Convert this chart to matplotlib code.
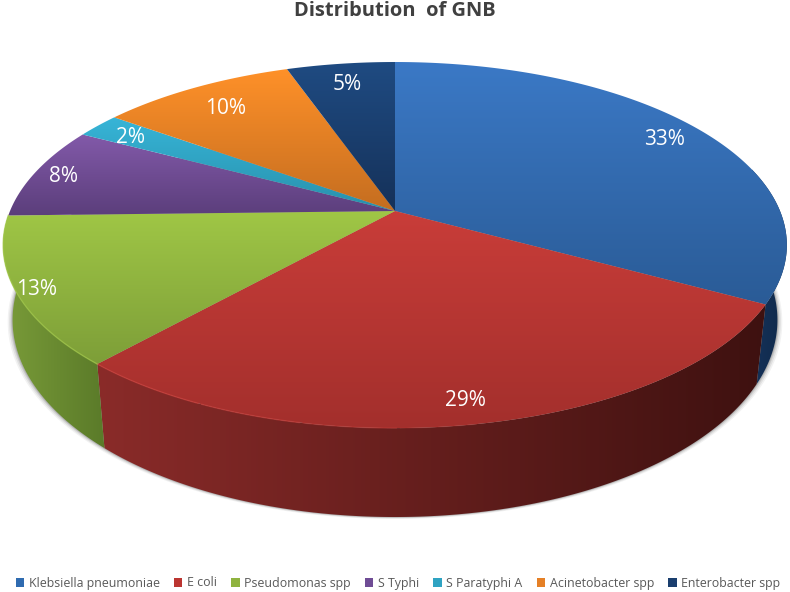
import numpy as np
import matplotlib
matplotlib.use('Agg')
import matplotlib.pyplot as plt
from matplotlib.colors import LinearSegmentedColormap
from matplotlib.patches import Patch, Polygon

plt.rcParams['font.family'] = ['Open Sans', 'DejaVu Sans']

categories = ['Klebsiella pneumoniae', 'E coli', 'Pseudomonas spp', 'S Typhi',
              'S Paratyphi A', 'Acinetobacter spp', 'Enterobacter spp']
values = [33, 28.6, 13, 8.2, 2.2, 9.65, 5.35]

top_light = ['#3b79c6', '#c93d39', '#a0c746', '#835aaa', '#37b5d8', '#ff9129', '#1f4b82']
top_dark = ['#2a5b96', '#a32f2c', '#7d9e38', '#5b3e7b', '#2890ab', '#c46d20', '#153159']
side_left = ['#16355f', '#8a2b29', '#7a9c39', '#5b3e7b', '#2890ab', '#c46d20', '#153159']
side_right = ['#102848', '#3e1110', '#5a7a29', '#5b3e7b', '#2890ab', '#c46d20', '#12294a']
legend_cols = ['#2f6bb0', '#bb3531', '#8fb33f', '#6f4c95', '#2fa3c2', '#e58026', '#1a3e6e']
label_radius = [0.88, 0.9, 0.95, 0.92, 0.88, 0.83, 0.85]

# pie projection, fitted to the picture in pixels
CX, CY = 395, 211
A, B, K = 385, 176.7, 0.186
DEPTH = 72.4
SX = 0.976


def project(ang, r=1.0):
    # ang in degrees clockwise from top
    u = r * np.sin(np.radians(ang))
    v = r * np.cos(np.radians(ang))
    d = 1 + K * v
    return CX + A * u / d, CY - B * v / d


def lower(ang):
    x, y = project(ang)
    d = 1 + K * np.cos(np.radians(ang))
    return CX + (x - CX) * SX, y + DEPTH / d


def gradient_fill(px, py, c0, c1, vertical, z):
    poly = Polygon(np.column_stack([px, py]), closed=True, transform=ax.transData,
                   fc='none', ec='none')
    ax.add_patch(poly)
    cmap = LinearSegmentedColormap.from_list('g', [c0, c1])
    grad = np.linspace(0, 1, 256)
    grad = grad.reshape(-1, 1) if vertical else grad.reshape(1, -1)
    im = ax.imshow(grad, cmap=cmap, aspect='auto', zorder=z, origin='upper',
                   extent=[px.min() - 1, px.max() + 1, py.max() + 1, py.min() - 1])
    im.set_clip_path(poly)


fig = plt.figure(figsize=(7.9, 5.92), dpi=100)
ax = fig.add_axes([0, 0, 1, 1])

edges = np.concatenate([[0], np.cumsum(values)]) / np.sum(values) * 360

# soft shadow under the pie
all_ang = np.linspace(0, 360, 361)
lx, ly = lower(all_ang)
for grow, alpha in [(5, 0.05), (3.5, 0.07), (2, 0.1), (1, 0.12)]:
    sx = CX + (lx - CX) * (1 + grow / 390)
    ax.fill(sx, ly + grow * 0.4, color='black', alpha=alpha, lw=0, zorder=1)

# side wall, only the slices that reach the front
for i in range(3):
    ang = np.linspace(edges[i], edges[i + 1], 200)
    ang = ang[np.cos(np.radians(ang)) < 0.25]
    xt, yt = project(ang)
    xb, yb = lower(ang)
    gradient_fill(np.concatenate([xt, xb[::-1]]), np.concatenate([yt, yb[::-1]]),
                  side_left[i], side_right[i], False, 2)

# top faces, each with its own vertical gradient
for i in range(len(values)):
    ang = np.linspace(edges[i], edges[i + 1], 200)
    xs, ys = project(ang)
    gradient_fill(np.concatenate([[CX], xs]), np.concatenate([[CY], ys]),
                  top_light[i], top_dark[i], True, 3)
    # lit rim on the front edge, fading out to the right
    if i in (1, 2):
        for lim0, lim1, alpha in [(0, 200, 0.7), (200, 300, 0.6), (300, 400, 0.4), (400, 480, 0.2)]:
            ok = (xs >= lim0) & (xs <= lim1)
            ax.plot(xs[ok], ys[ok], color=top_light[i], lw=1, alpha=alpha, zorder=4)

ax.set_xlim(0, 790)
ax.set_ylim(592, 0)
ax.axis('off')

# percent labels
for i, val in enumerate(values):
    mid = (edges[i] + edges[i + 1]) / 2
    x, y = project(mid, label_radius[i])
    ax.text(x, y + 2, '%d%%' % round(val), color='white', fontsize=15,
            ha='center', va='center', zorder=5)

ax.text(395, 11, 'Distribution  of GNB', color='#404040', fontsize=14.5,
        fontweight='bold', ha='center', va='center')

handles = [Patch(fc=c, ec='none') for c in legend_cols]
fig.legend(handles, categories, loc='center', bbox_to_anchor=(398 / 790, 1 - 583 / 592),
           ncol=7, frameon=False, fontsize=8.9, labelcolor='#595959', handlelength=0.7,
           handleheight=0.7, handletextpad=0.35, columnspacing=1.15, borderpad=0)

fig.savefig('out.png', dpi=100)
